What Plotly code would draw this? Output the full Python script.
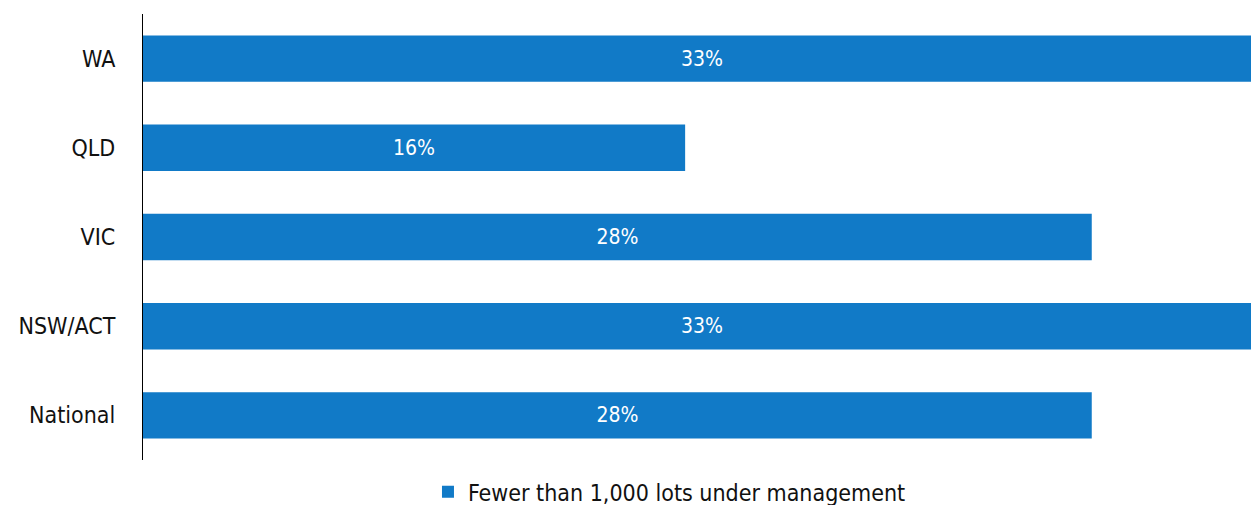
import plotly.graph_objects as go

categories = ["National", "NSW/ACT", "VIC", "QLD", "WA"]
values = [28, 33, 28, 16, 33]
labels = ["28%", "33%", "28%", "16%", "33%"]
series_name = "Fewer than 1,000 lots under management"

FONT = "DejaVu Sans Condensed, Liberation Sans Narrow, sans-serif"

fig = go.Figure()
fig.add_trace(go.Bar(
    y=categories, x=values, orientation="h",
    name=series_name,
    marker=dict(color="#117ac7", line=dict(width=0)),
    text=labels, textposition="inside", insidetextanchor="middle",
    textfont=dict(color="white", size=21, family=FONT),
    width=0.52,
    cliponaxis=True,
))

fig.update_layout(
    width=1251, height=505,
    margin=dict(l=143, r=0, t=14, b=45, autoexpand=False),
    paper_bgcolor="white", plot_bgcolor="white",
    font=dict(family=FONT, size=23, color="#111111"),
    showlegend=True,
    legend=dict(orientation="h", x=0.2572, xanchor="left",
                yref="container", y=0.026, yanchor="middle",
                font=dict(size=23, family=FONT), itemwidth=30),
    xaxis=dict(range=[0, 32.7], showgrid=False, showticklabels=False, zeroline=False,
               showline=False, fixedrange=True),
    yaxis=dict(categoryorder="array", categoryarray=categories, showgrid=False,
               showline=True, linecolor="black", linewidth=1.2, ticks="",
               ticklabelstandoff=22, tickfont=dict(size=23, family=FONT),
               range=[-0.5, 4.5]),
)
fig.write_html("out.html", post_script="document.body.style.margin='0';",
               config={"displayModeBar": False})
